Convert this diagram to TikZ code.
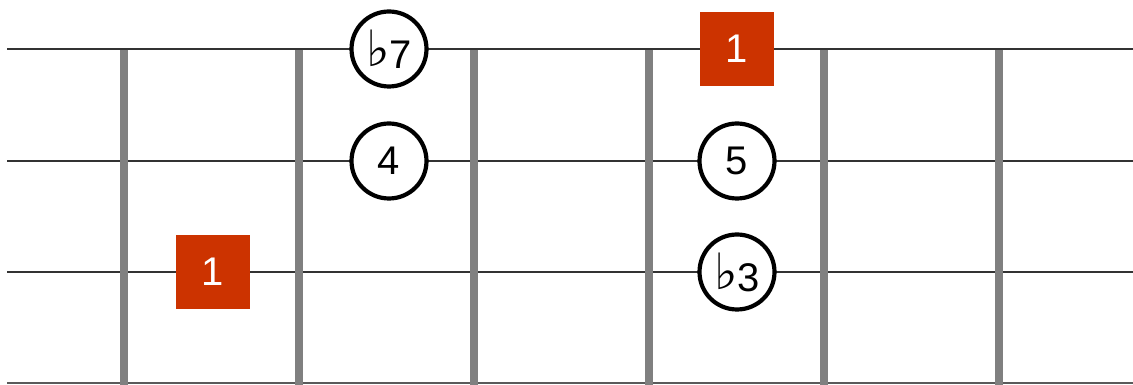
\documentclass[tikz,border=0pt]{standalone}
\usepackage{fontspec}
\setmainfont{Liberation Sans}
\newfontfamily\symfont{DejaVu Sans}
\usetikzlibrary{
  positioning,
  calc
}
\definecolor{fbRoot}{HTML}{CC3300}
\definecolor{fbFret}{HTML}{808080}
\definecolor{fbString}{HTML}{333333}
\newcommand{\flt}{\raisebox{2pt}{\symfont\fontsize{50}{40}\selectfont ♭}}
\tikzset{
  fbstring/.style={line width=1.8pt, fbString},
  fbfret/.style={line width=8pt, fbFret},
  tone/.style={
    draw, circle, line width=4.2pt, fill=white, minimum size=75pt,
    inner sep=0pt, font=\fontsize{40}{40}\selectfont
  },
  root/.style={
    rectangle, fill=fbRoot, minimum size=74pt, inner sep=0pt,
    text=white, font=\fontsize{40}{40}\selectfont
  }
}

\begin{document}
\begin{tikzpicture}[x=1pt, y=1pt]
  \useasboundingbox (0,0) rectangle (1133,385);
  % strings
  \draw[fbstring] (7,336) -- (1133,336);
  \draw[fbstring] (7,224) -- (1133,224);
  \draw[fbstring] (7,113) -- (1133,113);
  \draw[fbstring, fbFret!70!black] (7,2) -- (1133,2);
  % frets
  \draw[fbfret] (124,335) -- (124,0);
  \draw[fbfret] (299,335) -- (299,0);
  \draw[fbfret] (474,335) -- (474,0);
  \draw[fbfret] (649,335) -- (649,0);
  \draw[fbfret] (824,335) -- (824,0);
  \draw[fbfret] (999,335) -- (999,0);
  % notes
  \node[tone] (b7) at (389,336) {\flt\kern-1pt 7};
  \node[tone] (f4) at (389,224) {4};
  \node[root] (r2) at (737,336) {1};
  \node[tone] (f5) at (737,224) {5};
  \node[tone] (b3) at (737,113) {\flt\kern-1pt 3};
  \node[root] (r1) at (213,113) {1};
\end{tikzpicture}
\end{document}
